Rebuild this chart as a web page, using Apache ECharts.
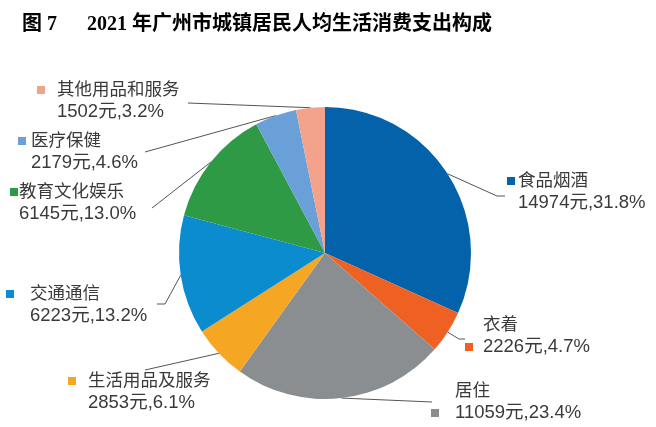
<!DOCTYPE html>
<html>
<head>
<meta charset="utf-8">
<script src="https://cdn.jsdelivr.net/npm/echarts@6/dist/echarts.min.js"></script>
<style>html,body{margin:0;padding:0;background:#fff;}#c{width:656px;height:427px;}</style>
</head>
<body>
<div id="c"></div>
<script>
var titleText = '图 7\u3000  2021 年广州市城镇居民人均生活消费支出构成';
var categories = ['食品烟酒', '衣着', '居住', '生活用品及服务', '交通通信', '教育文化娱乐', '医疗保健', '其他用品和服务'];
var amounts = [14974, 2226, 11059, 2853, 6223, 6145, 2179, 1502];
var percents = ['31.8', '4.7', '23.4', '6.1', '13.2', '13.0', '4.6', '3.2'];
var colors = ['#0462ab', '#ee6123', '#8a8e91', '#f5a623', '#0a8ccf', '#2f9a45', '#6aa0d8', '#f3a38c'];

// label layout (positions only)
var labelBox = [[507,170],[465,314],[431,380],[68,370],[6,283],[10,181],[18,130],[37,79]];
var markerLine = [1,2,2,1,1,1,1,1];
var textOffset = [11,18,24,20,24,9,13,20];
var lineEnds = [
  [[497,196],[505,196]],
  [[459,339],[465,339]],
  [[432,402],[432,402]],
  [[145,370],[145,370]],
  [[165,304],[157,304]],
  [[152,208],[152,208]],
  [[145,152],[145,152]],
  [[188,103],[188,103]]
];

var data = categories.map(function (name, i) {
  var off = textOffset[i];
  var rich = {
    m: { width: 8, height: 8, backgroundColor: colors[i] },
    g: { width: off - 8 },
    s: { width: off },
    n: { fontSize: 17.5, color: '#3a3a3a', lineHeight: 22 },
    v: { fontSize: 18.5, color: '#3a3a3a', lineHeight: 22 }
  };
  var l1 = (markerLine[i] === 1 ? '{m|}{g|}' : '{s|}') + '{n|' + name + '}';
  var l2 = (markerLine[i] === 2 ? '{m|}{g|}' : '{s|}') + '{v|' + amounts[i] + '元,' + percents[i] + '%}';
  return {
    name: name,
    value: amounts[i],
    itemStyle: { color: colors[i] },
    label: { formatter: l1 + '\n' + l2, rich: rich }
  };
});

var chart = echarts.init(document.getElementById('c'), null, { renderer: 'canvas' });
chart.setOption({
  animation: false,
  backgroundColor: '#fff',
  title: {
    text: titleText,
    left: 17,
    top: 10,
    textStyle: { fontSize: 20, fontWeight: 'bold', color: '#000', fontFamily: 'Liberation Serif, Noto Sans CJK SC, serif' }
  },
  series: [{
    type: 'pie',
    center: [325, 253],
    radius: 146,
    startAngle: 90,
    clockwise: true,
    avoidLabelOverlap: false,
    emphasis: { disabled: true },
    label: {
      show: true,
      position: 'outside',
      fontFamily: 'Liberation Sans, Noto Sans CJK SC, sans-serif',
      fontSize: 18,
      color: '#3a3a3a',
      lineHeight: 22
    },
    labelLine: { show: true, length: 5, length2: 5, smooth: false, lineStyle: { color: '#555', width: 1 } },
    labelLayout: function (params) {
      var i = params.dataIndex;
      var p0 = params.labelLinePoints ? params.labelLinePoints[0] : lineEnds[i][0];
      return {
        x: labelBox[i][0],
        y: labelBox[i][1],
        align: 'left',
        verticalAlign: 'top',
        labelLinePoints: [p0, lineEnds[i][0], lineEnds[i][1]]
      };
    },
    data: data
  }]
});
</script>
</body>
</html>
